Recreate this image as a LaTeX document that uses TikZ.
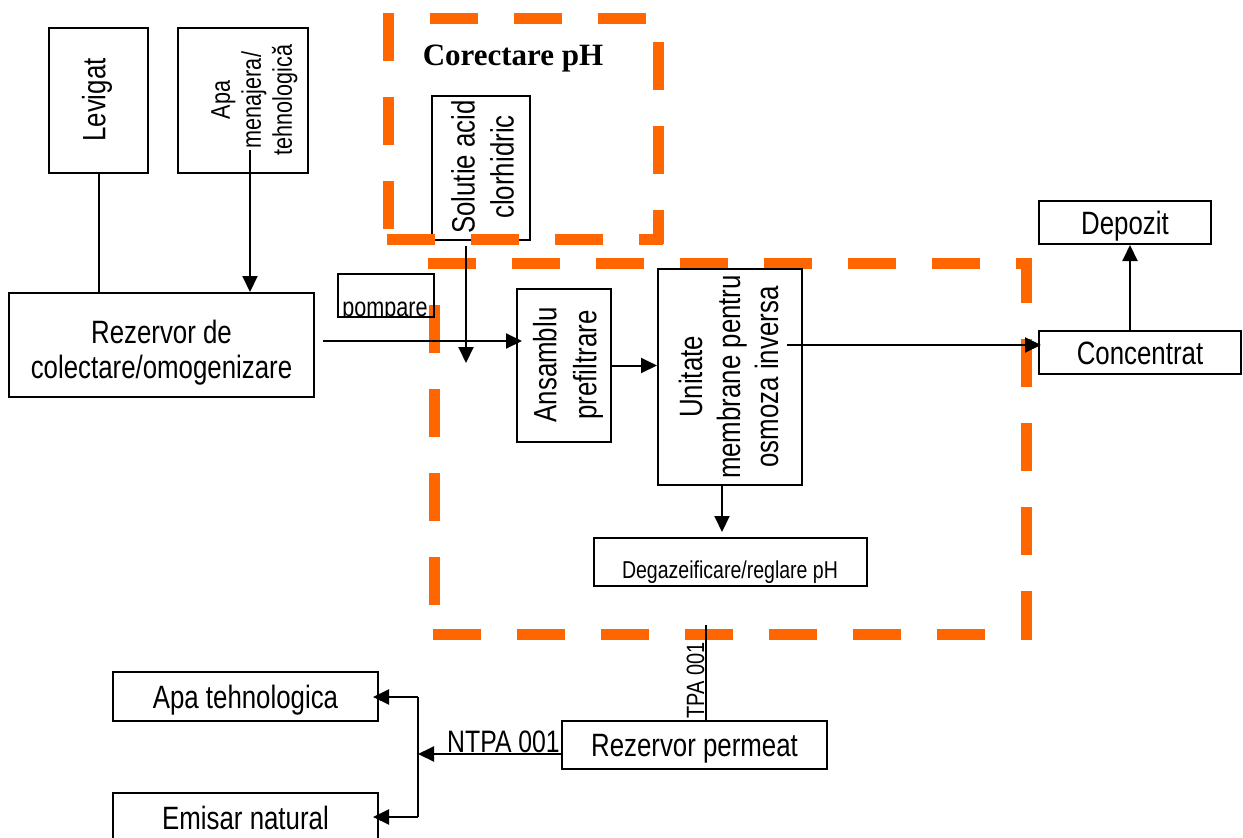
\documentclass[tikz,border=0pt]{standalone}
\usepackage{fontspec}
\setmainfont{Liberation Sans}[FakeStretch=0.8]
\newfontfamily\corfont{Liberation Serif}
\usetikzlibrary{arrows.meta}
\definecolor{dashorange}{RGB}{255,102,0}
\begin{document}
\begin{tikzpicture}[x=1pt,y=-1pt,
  box/.style={draw, line width=2pt, fill=white, inner sep=0pt},
  one/.style={font=\fontsize{32.3}{38}\selectfont, text height=23.1pt, text depth=0pt},
  txt/.style={inner sep=0pt, align=center},
  rot/.style={txt, rotate=90},
  arr/.style={line width=2pt, -{Triangle[length=16pt,width=15pt]}},
  ln/.style={line width=2pt},
  od/.style={draw=dashorange, line width=11pt, dash pattern=on 48pt off 36pt}
]
\clip (0,0) rectangle (1243,838);
% big dashed frame
\draw[od] (428,263) -- (1032,263);
\draw[od, dash phase=48pt] (434,269) -- (434,639);
\draw[od] (433,634) -- (1032,634);
\draw[od] (1026,639) -- (1026,258);

% boxes
\node[box, minimum width=99pt, minimum height=145pt] (lev) at (98.5,100.5) {};
\node[rot, font=\fontsize{32.3}{38}\selectfont] (levt) at (97,100) {Levigat};
\node[box, minimum width=130pt, minimum height=145pt] (apa) at (243,100.5) {};
\node[rot, font=\fontsize{27}{31}\selectfont] (apat) at (254.5,100) {Apa\\menajera/\\tehnologică};
\node[box, minimum width=98pt, minimum height=144pt] (sol) at (481,168) {};
\node[rot, font=\fontsize{32.3}{39}\selectfont] (solt) at (482.5,167) {Solutie acid\\clorhidric};
\node[box, minimum width=305pt, minimum height=104pt] (rez) at (161.5,345) {};
\node[txt, font=\fontsize{32.3}{35}\selectfont] (rezt) at (161.5,352.5) {Rezervor de\\colectare/omogenizare};
\begin{scope}
\clip (338,274) rectangle (434,316);
\node[inner sep=0pt, anchor=base, font=\fontsize{27}{30}\selectfont] (pompt) at (385,316) {pompare};
\end{scope}
\node[draw, line width=2pt, inner sep=0pt, minimum width=96pt, minimum height=43pt] (pomp) at (386,295.5) {};
\node[box, minimum width=94pt, minimum height=153pt] (ans) at (564,365.5) {};
\node[rot, font=\fontsize{32.3}{40}\selectfont] (anst) at (568,365) {Ansamblu\\prefiltrare};
\node[box, minimum width=144pt, minimum height=216pt] (unit) at (730,377) {};
\node[rot, font=\fontsize{32.3}{38}\selectfont] (unitt) at (728.5,377) {Unitate\\membrane pentru\\osmoza inversa};
\node[box, minimum width=273pt, minimum height=48pt] (deg) at (730.5,562) {};
\node[inner sep=0pt, anchor=base, font=\fontsize{24.4}{28}\selectfont] (degt) at (730,578) {Degazeificare/reglare pH};
\node[box, one, minimum width=202pt, minimum height=43pt] (conc) at (1140,352.5) {Concentrat};
\node[box, one, minimum width=172pt, minimum height=43pt] (dep) at (1125,222.5) {Depozit};
\node[rot, anchor=base, font=\fontsize{25}{28}\selectfont] (ntpav) at (704,688) {NTPA 001};
\node[box, one, minimum width=265pt, minimum height=48pt] (perm) at (694.5,745) {Rezervor permeat};
\node[box, one, minimum width=265pt, minimum height=49pt] (atech) at (245.5,696.5) {Apa tehnologica};
\node[box, one, minimum width=265pt, minimum height=49pt] (emis) at (245.5,817.5) {Emisar natural};
\node[inner sep=0pt, anchor=base east, font=\fontsize{31}{34}\selectfont] (ntpah) at (560,752) {NTPA 001};
\node[inner sep=0pt, anchor=base, font=\corfont\bfseries\fontsize{31}{36}\selectfont] (cor) at (513,65) {Corectare pH};

% connectors
\draw[ln] (lev.south) -- (lev.south |- rez.north);
\coordinate (apaS) at (250,150);
\draw[arr] (apaS) -- (apaS |- rez.north);
\coordinate (rA) at (323,341);
\draw[arr, shorten >=-6pt] (rA) -- (rA -| ans.west);
\coordinate (acidEnd) at (466,363);
\draw[arr, shorten <=5pt] (sol.south -| acidEnd) -- (acidEnd);
\draw[arr] (ans.east) -- (ans.east -| unit.west);
\coordinate (uD) at (722,485);
\draw[arr, shorten >=5pt] (unit.south -| uD) -- (deg.north -| uD);
\coordinate (uC) at (787,345);
\draw[arr, shorten >=-3pt] (uC) -- (uC -| conc.west);
\coordinate (cD) at (1130,300);
\draw[arr] (conc.north -| cD) -- (dep.south -| cD);
\coordinate (nTop) at (706,625);
\draw[ln] (nTop) -- (nTop |- perm.north);
\coordinate (jN) at (418,754);
\draw[arr] (perm.west |- jN) -- (jN);
\coordinate (jT) at (418,697);
\coordinate (jE) at (418,817);
\draw[ln] (jT) -- (jE);
\draw[arr, shorten >=-6pt] (jT) -- (jT -| atech.east);
\draw[arr, shorten >=-6pt] (jE) -- (jE -| emis.east);

% pH correction dashed frame
\draw[od] (388,13) -- (388,244);
\draw[od, dash phase=48pt] (394,18) -- (663,18);
\draw[od, dash phase=60pt] (658,18) -- (658,244);
\draw[od] (387,239) -- (663,239);
\end{tikzpicture}
\end{document}
